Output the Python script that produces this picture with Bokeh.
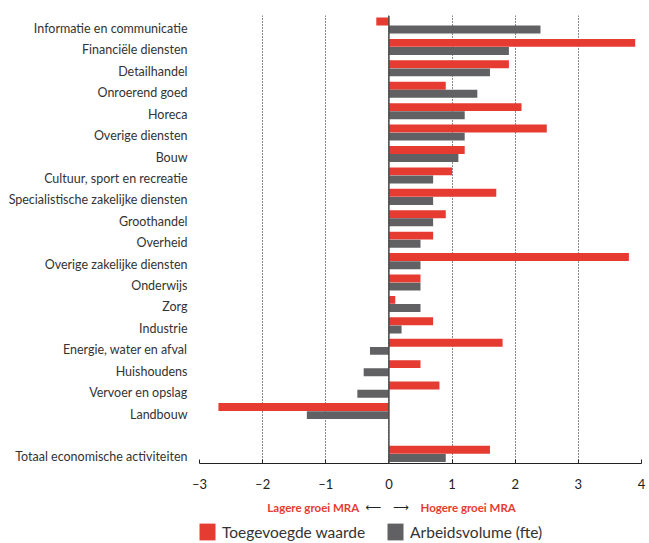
from bokeh.plotting import figure
from bokeh.models import Range1d, FixedTicker, Span, Label, Legend, LegendItem, ColumnDataSource
from bokeh.layouts import column
from bokeh.transform import dodge
from bokeh.embed import file_html
from bokeh.resources import INLINE

categories = [
    "Informatie en communicatie", "Financiële diensten", "Detailhandel", "Onroerend goed",
    "Horeca", "Overige diensten", "Bouw", "Cultuur, sport en recreatie",
    "Specialistische zakelijke diensten", "Groothandel", "Overheid",
    "Overige zakelijke diensten", "Onderwijs", "Zorg", "Industrie",
    "Energie, water en afval", "Huishoudens", "Vervoer en opslag", "Landbouw",
    "Totaal economische activiteiten",
]
toegevoegde_waarde = [-0.2, 3.9, 1.9, 0.9, 2.1, 2.5, 1.2, 1.0, 1.7, 0.9, 0.7, 3.8, 0.5, 0.1, 0.7, 1.8, 0.5, 0.8, -2.7, 1.6]
arbeidsvolume = [2.4, 1.9, 1.6, 1.4, 1.2, 1.2, 1.1, 0.7, 0.7, 0.7, 0.5, 0.5, 0.5, 0.5, 0.2, -0.3, -0.4, -0.5, -1.3, 0.9]
x_ticks = [-3, -2, -1, 0, 1, 2, 3, 4]
x_tick_labels = ["–3", "–2", "–1", "0", "1", "2", "3", "4"]
series_names = ["Toegevoegde waarde", "Arbeidsvolume (fte)"]
direction_labels = ["Lagere groei MRA", "Hogere groei MRA"]

rows = list(range(len(categories) - 1)) + [len(categories)]

RED = "#E53B30"
GREY = "#616163"
FONT = "Lato"

src = ColumnDataSource(dict(y=rows, tw=toegevoegde_waarde, av=arbeidsvolume, cat=categories))

p = figure(width=649, height=498, output_backend="svg", toolbar_location=None,
           x_range=Range1d(-3, 4), y_range=Range1d(20.31, -0.607),
           frame_width=442, frame_height=448,
           min_border_left=199, min_border_right=8, min_border_top=15, min_border_bottom=35)
p.outline_line_color = None

r_red = p.hbar(y=dodge("y", -0.33, range=p.y_range), right="tw", left=0, height=0.37,
               source=src, color=RED, line_color=None)
r_grey = p.hbar(y=dodge("y", 0.05, range=p.y_range), right="av", left=0, height=0.37,
                source=src, color=GREY, line_color=None)

p.add_layout(Span(location=0, dimension="height", line_color="#4a4a4a", line_width=1.5))

# x axis
p.xaxis.ticker = FixedTicker(ticks=x_ticks)
p.xaxis.major_label_overrides = {t: l for t, l in zip(x_ticks, x_tick_labels)}
p.xaxis.axis_line_color = "#222222"
p.xaxis.major_tick_line_color = "#222222"
p.xaxis.major_tick_in = 4
p.xaxis.major_tick_out = 0
p.xaxis.minor_tick_line_color = None
p.xaxis.major_label_text_font = FONT
p.xaxis.major_label_text_font_size = "13px"
p.xaxis.major_label_text_color = "#222222"
p.xaxis.major_label_standoff = 12

# y axis
p.yaxis.ticker = FixedTicker(ticks=rows)
p.yaxis.major_label_overrides = {r: c for r, c in zip(rows, categories)}
p.yaxis.axis_line_color = None
p.yaxis.major_tick_line_color = None
p.yaxis.minor_tick_line_color = None
p.yaxis.major_label_text_font = FONT
p.yaxis.major_label_text_font_size = "12.5px"
p.yaxis.major_label_text_color = "#333333"
p.yaxis.major_label_standoff = 6

p.ygrid.grid_line_color = None
p.xgrid.ticker = FixedTicker(ticks=x_ticks)
p.xgrid.grid_line_color = "#111111"
p.xgrid.grid_line_dash = "1 2"
p.xgrid.grid_line_width = 1

# bottom strip: direction annotation + legend
p2 = figure(width=649, height=45, output_backend="svg", toolbar_location=None,
            x_range=Range1d(-3, 4), y_range=Range1d(45, 0),
            frame_width=442, frame_height=45,
            min_border_left=199, min_border_right=8, min_border_top=0, min_border_bottom=0,
            x_axis_location=None, y_axis_location=None)
p2.outline_line_color = None
p2.grid.grid_line_color = None

p2.add_layout(Label(x=-0.47, y=9, text=direction_labels[0], text_align="right", text_baseline="middle",
                    text_font=FONT, text_font_style="bold", text_font_size="11.5px", text_color=RED))
p2.add_layout(Label(x=0.5, y=9, text=direction_labels[1], text_align="left", text_baseline="middle",
                    text_font=FONT, text_font_style="bold", text_font_size="11.5px", text_color=RED))
p2.add_layout(Label(x=-0.12, y=9, text="⟵", text_align="right", text_baseline="middle",
                    text_font="DejaVu Sans", text_font_size="11px", text_color="#222222"))
p2.add_layout(Label(x=0.07, y=9, text="⟶", text_align="left", text_baseline="middle",
                    text_font="DejaVu Sans", text_font_size="11px", text_color="#222222"))

# hidden copies of the series, only used to draw legend swatches
l_red = p2.hbar(y="y", right="tw", left=0, height=0.37, source=src, color=RED, line_color=None, visible=False)
l_grey = p2.hbar(y="y", right="av", left=0, height=0.37, source=src, color=GREY, line_color=None, visible=False)
legend = Legend(items=[LegendItem(label=series_names[0], renderers=[l_red], index=0),
                       LegendItem(label=series_names[1], renderers=[l_grey], index=0)],
                orientation="horizontal", location=(-2, 1),
                padding=0, margin=0, spacing=20, glyph_width=20, glyph_height=21,
                label_text_font=FONT, label_text_font_size="15.5px", label_text_color="#333333",
                label_standoff=5, border_line_color=None, background_fill_alpha=0,
                inactive_fill_alpha=0)
p2.add_layout(legend, "center")

layout = column(p, p2, spacing=0)
open("out.html", "w").write(file_html(layout, INLINE))
